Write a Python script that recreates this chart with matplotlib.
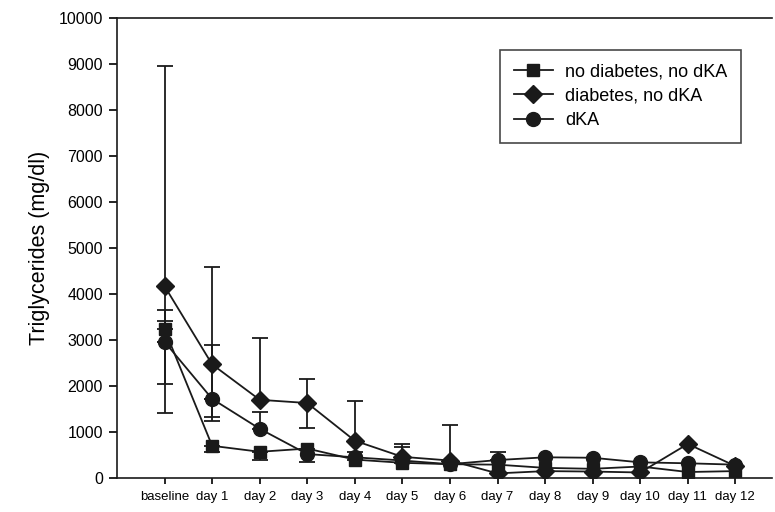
import numpy as np
import matplotlib
matplotlib.use('Agg')
import matplotlib.pyplot as plt

plt.rcParams['font.family'] = ['Liberation Sans', 'DejaVu Sans']

days = ['baseline', 'day 1', 'day 2', 'day 3', 'day 4', 'day 5', 'day 6',
        'day 7', 'day 8', 'day 9', 'day 10', 'day 11', 'day 12']

# medians (mg/dl)
no_diab = [3230, 700, 570, 640, 400, 330, 300, 290, 220, 200, 250, 130, 150]
diab = [4170, 2470, 1700, 1630, 810, 460, 380, 100, 150, 140, 120, 740, 260]
dka = [2960, 1720, 1070, 520, 450, 380, 300, 390, 450, 440, 340, 320, 290]

# visible error bar ends (None = not visible)
no_diab_hi = [3650, None, None, None, 570, 680, None, None, None, None, None, None, None]
no_diab_lo = [None, 570, 400, 350, None, None, None, None, None, None, None, None, None]
diab_hi = [8950, 4590, 3050, 2150, 1670, 750, 1150, None, None, None, None, None, None]
diab_lo = [1420, 1330, None, 1080, None, None, None, None, None, None, None, None, None]
dka_hi = [3410, 2890, 1440, None, None, None, None, 570, None, None, None, None, None]
dka_lo = [2040, 1250, None, None, None, None, None, None, None, None, None, None, None]

series = [
    ('no diabetes, no dKA', no_diab, no_diab_lo, no_diab_hi, 's', 8.5),
    ('diabetes, no dKA', diab, diab_lo, diab_hi, 'D', 9),
    ('dKA', dka, dka_lo, dka_hi, 'o', 10),
]

fig = plt.figure(figsize=(7.75, 5.12), dpi=100)
ax = fig.add_axes([117/775, 1-478/512, (772-117)/775, (478-18)/512])

x = np.arange(len(days))
handles = []
for name, vals, lo, hi, mk, ms in series:
    vals = np.array(vals, dtype=float)
    lo_err = np.array([0 if l is None else v - l for v, l in zip(vals, lo)])
    hi_err = np.array([0 if h is None else h - v for v, h in zip(vals, hi)])
    # draw lower and upper bars separately so hidden caps don't show
    for err, sel in ((lo_err, lo), (hi_err, hi)):
        idx = [i for i, e in enumerate(sel) if e is not None]
        if not idx:
            continue
        e = np.zeros((2, len(idx)))
        if sel is lo:
            e[0] = err[idx]
        else:
            e[1] = err[idx]
        ax.errorbar(x[idx], vals[idx], yerr=e, fmt='none', ecolor='#1a1a1a',
                    elinewidth=1.3, capsize=6, capthick=1.3, zorder=2)
    h, = ax.plot(x, vals, color='#1a1a1a', lw=1.3, marker=mk, ms=ms,
                 mfc='#1a1a1a', mec='#1a1a1a', label=name, zorder=3)
    handles.append(h)

ax.set_xlim(-1, 12.77)
ax.set_ylim(0, 10000)
ax.set_yticks(np.arange(0, 10001, 1000))
ax.set_xticks(x)
ax.set_xticklabels(days, fontsize=9.5)
ax.tick_params(axis='y', labelsize=11.5, length=6, width=1.2, pad=4)
ax.tick_params(axis='x', length=4.5, width=1.2, pad=5)
ax.spines['right'].set_visible(False)
for s in ('left', 'top', 'bottom'):
    ax.spines[s].set_linewidth(1.2)
    ax.spines[s].set_color('#1a1a1a')

fig.text(40/775, 1-248/512, 'Triglycerides (mg/dl)', rotation=90,
         fontsize=15.5, ha='center', va='center')

leg = ax.legend(handles=handles, loc='upper left',
                bbox_to_anchor=(500/775, 1-50/512), bbox_transform=fig.transFigure,
                fontsize=13, frameon=True, fancybox=False, edgecolor='#1a1a1a',
                handlelength=2.2, handletextpad=0.65, labelspacing=0.4,
                borderpad=0.75, borderaxespad=0)
leg.get_frame().set_linewidth(1.2)

fig.savefig('out.png', dpi=100)
